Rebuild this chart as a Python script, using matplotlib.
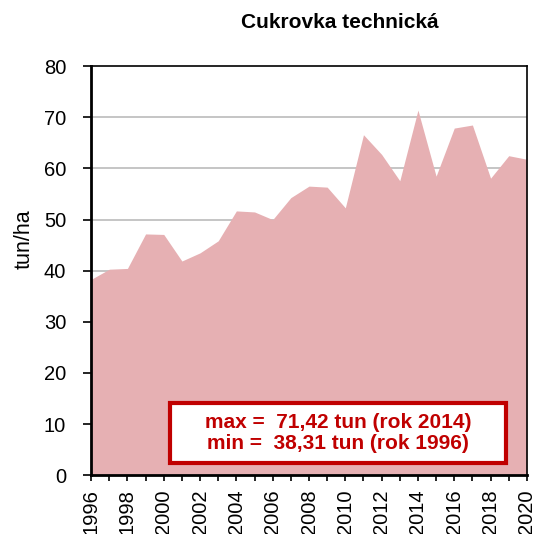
import matplotlib
matplotlib.use('Agg')
import matplotlib.pyplot as plt
from matplotlib.patches import Rectangle

plt.rcParams['font.family'] = ['Liberation Sans', 'DejaVu Sans']

years = list(range(1996, 2021))
vynosy = [38.31, 40.3, 40.45, 47.2, 47.1, 41.9, 43.5, 45.85, 51.7, 51.5,
          50.0, 54.3, 56.55, 56.35, 52.3, 66.6, 62.75, 57.6, 71.42, 58.5,
          67.9, 68.5, 58.1, 62.5, 61.8]
tick_years = list(range(1996, 2021, 2))

fig = plt.figure(figsize=(5.36, 5.34), dpi=100)
ax = fig.add_axes([0.170, 0.110, 0.813, 0.766])

for v in range(10, 80, 10):
    ax.axhline(v, color='#c0c0c0', lw=1.3, zorder=1)
ax.fill_between(years, vynosy, 0, color='#e6b0b3', lw=0, zorder=2)

ax.set_xlim(1996, 2020)
ax.set_ylim(0, 80)
ax.set_yticks(range(0, 81, 10))
ax.set_xticks(years, minor=True)
ax.set_xticks(tick_years)
ax.set_xticklabels([str(y) for y in tick_years], rotation=90)
ax.tick_params(axis='both', which='both', direction='out', width=1.2,
               labelsize=14.5, color='black')
ax.tick_params(axis='y', length=6, pad=12)
ax.tick_params(axis='x', which='both', length=4, pad=6)
ax.tick_params(axis='x', which='minor', labelbottom=False)
for s in ['left', 'bottom']:
    ax.spines[s].set_linewidth(2)
for s in ['top', 'right']:
    ax.spines[s].set_linewidth(1.2)
for s in ax.spines.values():
    s.set_zorder(5)

ax.set_ylabel('tun/ha', fontsize=15.5)
ax.yaxis.set_label_coords(-0.13, 0.577)
fig.text(0.634, 0.957, 'Cukrovka technická', fontsize=15, fontweight='bold',
         ha='center', va='center')

ax.add_patch(Rectangle((0.181, 0.029), 0.771, 0.147, transform=ax.transAxes,
                       fc='white', ec='#c00000', lw=3, zorder=6))
ax.text(0.567, 0.103, 'max =  71,42 tun (rok 2014)\nmin =  38,31 tun (rok 1996)',
        transform=ax.transAxes, ha='center', va='center', fontsize=15,
        fontweight='bold', color='#c00000', linespacing=1.15, zorder=7)

fig.savefig('out.png', dpi=100)
